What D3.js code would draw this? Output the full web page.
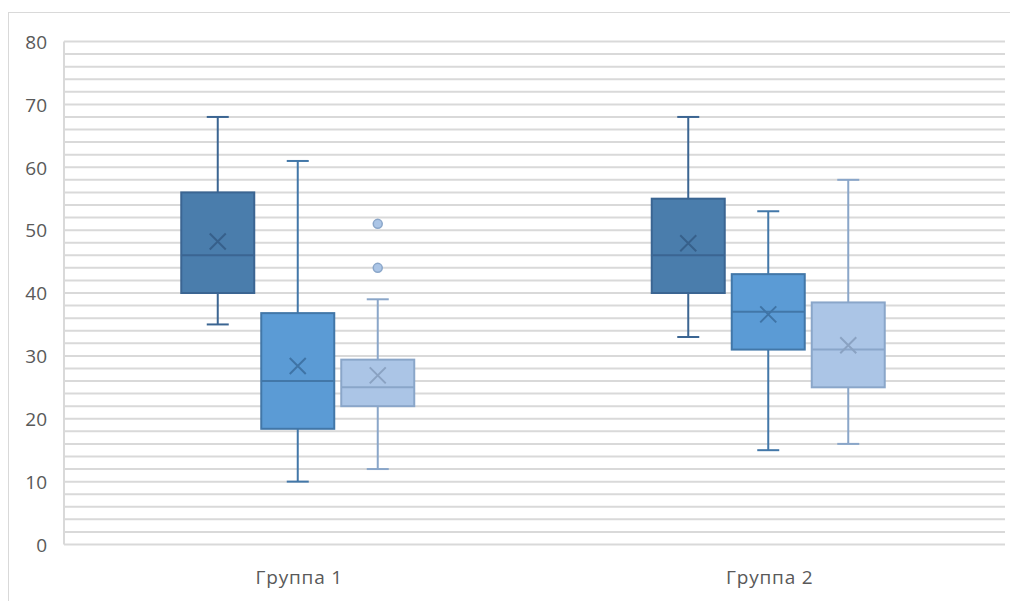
<!DOCTYPE html>
<html>
<head>
<meta charset="utf-8">
<script src="https://cdn.jsdelivr.net/npm/d3@7"></script>
<style>
  html, body { margin: 0; padding: 0; background: #fff; }
  svg { display: block; }
  text { font-family: "Open Sans", "Liberation Sans", sans-serif; fill: #595959; }
</style>
</head>
<body>
<svg id="chart" width="1010" height="601"></svg>
<script>
// Categories and series
const groups = ["Группа 1", "Группа 2"];
const seriesNames = ["Ряд 1", "Ряд 2", "Ряд 3"];

// Five-number summaries per series, one entry per group
const whiskerLow  = [[35, 33], [10, 15], [12, 16]];
const quartile1   = [[40, 40], [18.4, 31], [22, 25]];
const medians     = [[46, 46], [26, 37], [25, 31]];
const quartile3   = [[56, 55], [36.8, 43], [29.4, 38.5]];
const whiskerHigh = [[68, 68], [61, 53], [39, 58]];
const means       = [[48.2, 47.9], [28.4, 36.6], [26.9, 31.7]];
// Outlier points per series, per group
const outliers    = [[[], []], [[], []], [[51, 44], []]];

const yTicks = [0, 10, 20, 30, 40, 50, 60, 70, 80];

const fills   = ["#4a7dac", "#5b9bd5", "#abc5e6"];
const strokes = ["#3b6592", "#4277a8", "#8aa6c9"];
const marks   = ["#37608b", "#3f74a6", "#8aa2c2"];

const svg = d3.select("#chart");
const W = 1010, H = 601;
const m = { left: 64, right: 5, top: 41.5, bottom: 56.5 };

// Outer chart frame
svg.append("rect")
  .attr("x", 8.5).attr("y", 12.5)
  .attr("width", W + 10).attr("height", H + 10)
  .attr("fill", "none").attr("stroke", "#d9d9d9").attr("stroke-width", 1);

const x = d3.scaleBand().domain(groups).range([m.left, W - m.right]);
const y = d3.scaleLinear().domain([0, 80]).range([H - m.bottom, m.top]);

// Horizontal gridlines every 2 units
const grid = d3.range(0, 81, 2);
svg.append("g").selectAll("line").data(grid).join("line")
  .attr("x1", m.left).attr("x2", W - m.right)
  .attr("y1", d => y(d)).attr("y2", d => y(d))
  .attr("stroke", "#d9d9d9").attr("stroke-width", 2);

// Vertical axis line
svg.append("line")
  .attr("x1", m.left).attr("x2", m.left)
  .attr("y1", y(80)).attr("y2", y(0))
  .attr("stroke", "#d9d9d9").attr("stroke-width", 2);

// Y axis labels
const yAxis = d3.axisLeft(y).tickValues(yTicks).tickSize(0).tickPadding(17);
const ya = svg.append("g").attr("transform", `translate(${m.left},0)`).call(yAxis);
ya.select(".domain").remove();
ya.selectAll("text").style("font-size", "19px").attr("fill", "#595959")
  .attr("font-family", null).attr("dy", "0.36em");

// X axis labels
const xAxis = d3.axisBottom(x).tickSize(0).tickPadding(26);
const xa = svg.append("g").attr("transform", `translate(0,${y(0)})`).call(xAxis);
xa.select(".domain").remove();
xa.selectAll("text").style("font-size", "19px").style("letter-spacing", "0.8px")
  .attr("fill", "#595959").attr("font-family", null);

// Sub-band for the three series within each group
const step = 80;
const sub = d3.scaleBand().domain(seriesNames)
  .range([-121.5, 118.5]).paddingInner(7 / step).paddingOuter(3.5 / step);
const bw = sub.bandwidth();
const capHalf = 11;
const xHalf = 8;

groups.forEach((g, gi) => {
  const cx0 = x(g) + x.bandwidth() / 2;
  seriesNames.forEach((s, si) => {
    const left = cx0 + sub(s);
    const cx = left + bw / 2;
    const gEl = svg.append("g");
    const st = strokes[si];
    // whiskers
    gEl.append("line").attr("x1", cx).attr("x2", cx)
      .attr("y1", y(whiskerHigh[si][gi])).attr("y2", y(quartile3[si][gi]))
      .attr("stroke", st).attr("stroke-width", 2);
    gEl.append("line").attr("x1", cx).attr("x2", cx)
      .attr("y1", y(quartile1[si][gi])).attr("y2", y(whiskerLow[si][gi]))
      .attr("stroke", st).attr("stroke-width", 2);
    [whiskerHigh[si][gi], whiskerLow[si][gi]].forEach(v => {
      gEl.append("line").attr("x1", cx - capHalf).attr("x2", cx + capHalf)
        .attr("y1", y(v)).attr("y2", y(v))
        .attr("stroke", st).attr("stroke-width", 2);
    });
    // box
    gEl.append("rect")
      .attr("x", left).attr("width", bw)
      .attr("y", y(quartile3[si][gi]))
      .attr("height", y(quartile1[si][gi]) - y(quartile3[si][gi]))
      .attr("fill", fills[si]).attr("stroke", st).attr("stroke-width", 2);
    // median
    gEl.append("line").attr("x1", left).attr("x2", left + bw)
      .attr("y1", y(medians[si][gi])).attr("y2", y(medians[si][gi]))
      .attr("stroke", st).attr("stroke-width", 2);
    // mean marker
    const my = y(means[si][gi]);
    gEl.append("path")
      .attr("d", `M${cx - xHalf},${my - xHalf}L${cx + xHalf},${my + xHalf}M${cx - xHalf},${my + xHalf}L${cx + xHalf},${my - xHalf}`)
      .attr("stroke", marks[si]).attr("stroke-width", 2).attr("fill", "none");
    // outliers
    gEl.selectAll("circle.o").data(outliers[si][gi]).join("circle")
      .attr("cx", cx).attr("cy", d => y(d)).attr("r", 4.5)
      .attr("fill", fills[si]).attr("stroke", st).attr("stroke-width", 1.5);
  });
});
</script>
</body>
</html>
